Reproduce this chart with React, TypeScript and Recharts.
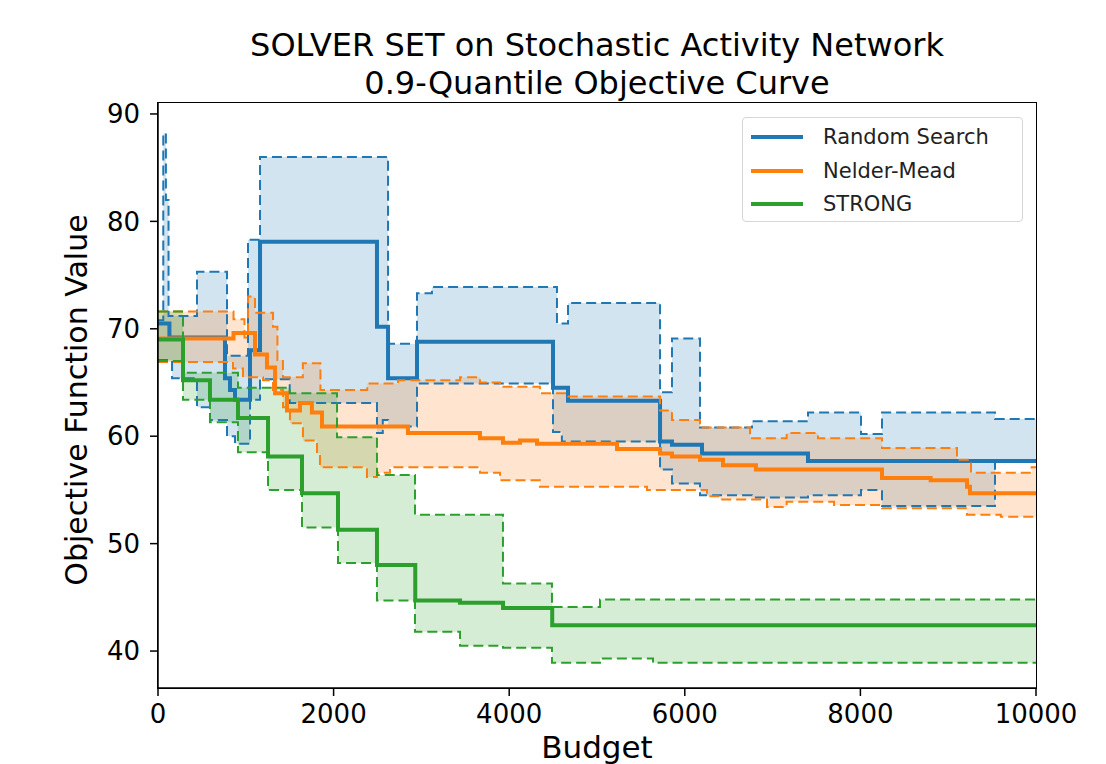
import { ComposedChart, Area, Line, XAxis, YAxis } from 'recharts';

type Pt = [number, number];

// [budget, objective] step points
const randomSearchMedian: Pt[] = [
  [0, 70.5], [130, 69.2], [763, 65.4], [820, 64.3], [877, 63.4], [1048, 68.0], [1162, 78.1],
  [2494, 70.2], [2620, 65.4], [2950, 68.8], [4499, 64.5], [4670, 63.3], [5718, 59.5],
  [5854, 59.2], [6196, 58.4], [7403, 57.7],
];
const randomSearchLower: Pt[] = [
  [0, 67.1], [160, 65.4], [444, 62.7], [592, 61.5], [786, 60.0], [877, 59.3], [1048, 63.4],
  [1162, 65.3], [1500, 63.1], [2494, 60.3], [2560, 61.5], [2620, 60.9], [2950, 64.9],
  [4499, 60.4], [4600, 59.5], [5718, 56.9], [5854, 55.6], [6173, 54.5], [6765, 54.3],
  [7403, 54.5], [8007, 55.0], [8246, 53.5], [9533, 57.7],
];
const randomSearchUpper: Pt[] = [
  [0, 70.8], [60, 88.2], [90, 82.0], [120, 71.2], [444, 75.3], [786, 67.5], [1025, 78.3],
  [1162, 86.0], [2620, 68.6], [2950, 73.3], [3120, 73.9], [4544, 70.5], [4670, 72.4],
  [5718, 64.1], [5854, 69.1], [6173, 60.8], [6765, 61.4], [7403, 62.2], [8007, 60.2],
  [8246, 62.2], [9533, 61.6],
];

const nelderMeadMedian: Pt[] = [
  [0, 69.1], [860, 69.6], [1105, 67.6], [1241, 66.4], [1333, 64.0], [1469, 62.4], [1617, 63.1],
  [1753, 62.2], [1868, 60.9], [2847, 60.3], [3667, 59.8], [3929, 59.4], [4123, 59.6],
  [4317, 59.3], [5228, 58.8], [5718, 58.4], [5854, 58.1], [6173, 57.8], [6435, 57.3],
  [6810, 56.9], [8246, 56.1], [8800, 55.9], [9214, 55.3], [9248, 54.7],
];
const nelderMeadLower: Pt[] = [
  [0, 66.9], [854, 66.3], [968, 65.5], [1196, 65.2], [1310, 64.3], [1424, 62.7], [1503, 61.2],
  [1651, 59.6], [1811, 58.4], [1845, 57.1], [2380, 56.2], [2494, 56.6], [2642, 57.1],
  [3667, 56.6], [3895, 55.9], [4350, 55.3], [5569, 55.0], [6253, 54.4], [6400, 54.1],
  [6936, 53.4], [7160, 53.9], [7700, 53.6], [8246, 53.3], [9214, 52.7], [9600, 52.5],
];
const nelderMeadUpper: Pt[] = [
  [0, 71.6], [860, 70.9], [985, 69.2], [1025, 73.0], [1105, 71.5], [1310, 70.2], [1360, 67.1],
  [1423, 65.5], [1650, 66.8], [1850, 64.3], [2383, 64.9], [2733, 65.2], [3440, 65.5],
  [3667, 65.0], [3895, 64.6], [4350, 64.0], [4670, 63.7], [5718, 62.4], [5854, 61.5],
  [6173, 60.8], [6743, 59.8], [7160, 60.3], [7517, 59.8], [8246, 58.9], [9100, 57.8],
  [9260, 56.6], [9950, 57.1],
];

const strongMedian: Pt[] = [
  [0, 69.0], [285, 65.2], [592, 63.4], [911, 61.7], [1253, 58.1], [1640, 54.7], [2050, 51.3],
  [2494, 48.0], [2930, 44.7], [3440, 44.5], [3930, 44.0], [4490, 42.4],
];
const strongLower: Pt[] = [
  [0, 67.0], [285, 63.4], [592, 61.3], [911, 58.5], [1253, 55.0], [1640, 51.5], [2050, 48.2],
  [2494, 44.7], [2927, 41.8], [3440, 40.5], [3929, 40.3], [4487, 38.9], [5034, 39.3],
  [5638, 38.9],
];
const strongUpper: Pt[] = [
  [0, 71.6], [285, 65.9], [911, 64.5], [1500, 64.0], [2039, 59.9], [2494, 56.4], [2927, 52.7],
  [3929, 46.3], [4487, 44.1], [5034, 44.8],
];

const xTicks = [0, 2000, 4000, 6000, 8000, 10000];
const yTicks = [40, 50, 60, 70, 80, 90];

const BLUE = '#1f77b4';
const ORANGE = '#ff7f0e';
const GREEN = '#2ca02c';
const FONT = 'DejaVu Sans, sans-serif';

const legendItems = [
  { name: 'Random Search', color: BLUE },
  { name: 'Nelder-Mead', color: ORANGE },
  { name: 'STRONG', color: GREEN },
];

function stepAt(points: Pt[], x: number) {
  let v = points[0][1];
  for (const [b, y] of points) {
    if (b <= x) v = y;
    else break;
  }
  return v;
}

const allCurves = [
  randomSearchMedian, randomSearchLower, randomSearchUpper,
  nelderMeadMedian, nelderMeadLower, nelderMeadUpper,
  strongMedian, strongLower, strongUpper,
];
const budgets = Array.from(new Set([...allCurves.flat().map((p) => p[0]), 10000])).sort((a, b) => a - b);

const rows = budgets.map((x) => {
  const rsLo = stepAt(randomSearchLower, x);
  const rsHi = stepAt(randomSearchUpper, x);
  const nmLo = stepAt(nelderMeadLower, x);
  const nmHi = stepAt(nelderMeadUpper, x);
  const stLo = stepAt(strongLower, x);
  const stHi = stepAt(strongUpper, x);
  return {
    x,
    rsMed: stepAt(randomSearchMedian, x), rsLo, rsHi, rsBand: [rsLo, rsHi],
    nmMed: stepAt(nelderMeadMedian, x), nmLo, nmHi, nmBand: [nmLo, nmHi],
    stMed: stepAt(strongMedian, x), stLo, stHi, stBand: [stLo, stHi],
  };
});

const tickStyle = { fontFamily: FONT, fontSize: 26, fill: '#000' };

function series(prefix: string, color: string) {
  return [
    <Area key={prefix + 'Band'} dataKey={prefix + 'Band'} type="stepAfter" fill={color} fillOpacity={0.2}
      stroke="none" isAnimationActive={false} />,
    <Line key={prefix + 'Lo'} dataKey={prefix + 'Lo'} type="stepAfter" stroke={color} strokeWidth={2}
      strokeDasharray="10 5" dot={false} isAnimationActive={false} />,
    <Line key={prefix + 'Hi'} dataKey={prefix + 'Hi'} type="stepAfter" stroke={color} strokeWidth={2}
      strokeDasharray="10 5" dot={false} isAnimationActive={false} />,
    <Line key={prefix + 'Med'} dataKey={prefix + 'Med'} type="stepAfter" stroke={color} strokeWidth={4}
      dot={false} isAnimationActive={false} />,
  ];
}

const titleLine = { position: 'absolute' as const, left: 97, width: 1000, textAlign: 'center' as const, fontSize: 32, lineHeight: 1, color: '#000' };

export default function App() {
  return (
    <div style={{ position: 'absolute', left: 0, top: 0, width: 1106, height: 764, background: '#fff', fontFamily: FONT, overflow: 'hidden' }}>
      <div style={{ ...titleLine, top: 29 }}>SOLVER SET on Stochastic Activity Network</div>
      <div style={{ ...titleLine, top: 67 }}>0.9-Quantile Objective Curve</div>
      <ComposedChart width={1106} height={764} data={rows} margin={{ top: 103, right: 70, bottom: 0, left: 0 }}>
        <XAxis dataKey="x" type="number" domain={[0, 10000]} ticks={xTicks} height={76}
          tick={tickStyle} tickSize={8} tickMargin={9} stroke="#000" strokeWidth={1.5} allowDataOverflow />
        <YAxis type="number" domain={[36.56, 91.02]} ticks={yTicks} width={158}
          tick={tickStyle} tickSize={8} tickMargin={10} stroke="#000" strokeWidth={1.5} allowDataOverflow />
        {series('rs', BLUE)}
        {series('nm', ORANGE)}
        {series('st', GREEN)}
      </ComposedChart>
      <div style={{ position: 'absolute', left: 157, top: 102, width: 880, height: 587, border: '1.5px solid #000', boxSizing: 'border-box', pointerEvents: 'none' }} />
      <div style={{ position: 'absolute', left: 497, width: 200, top: 732, textAlign: 'center', fontSize: 31, lineHeight: 1, color: '#000' }}>
        Budget
      </div>
      <div style={{ position: 'absolute', left: 76, top: 400, transform: 'translate(-50%, -50%) rotate(-90deg)', whiteSpace: 'nowrap', fontSize: 30, color: '#000' }}>
        Objective Function Value
      </div>
      <div style={{ position: 'absolute', left: 742, top: 117, width: 281, height: 105, border: '1px solid #d6d6d6', borderRadius: 4, background: 'rgba(255,255,255,0.8)', boxSizing: 'border-box' }}>
        {legendItems.map((item, i) => (
          <div key={item.name} style={{ position: 'absolute', left: 8, top: 4 + i * 33.5, height: 30, display: 'flex', alignItems: 'center' }}>
            <div style={{ width: 52, height: 4, background: item.color }} />
            <span style={{ marginLeft: 20, fontSize: 21, color: '#222' }}>{item.name}</span>
          </div>
        ))}
      </div>
    </div>
  );
}
